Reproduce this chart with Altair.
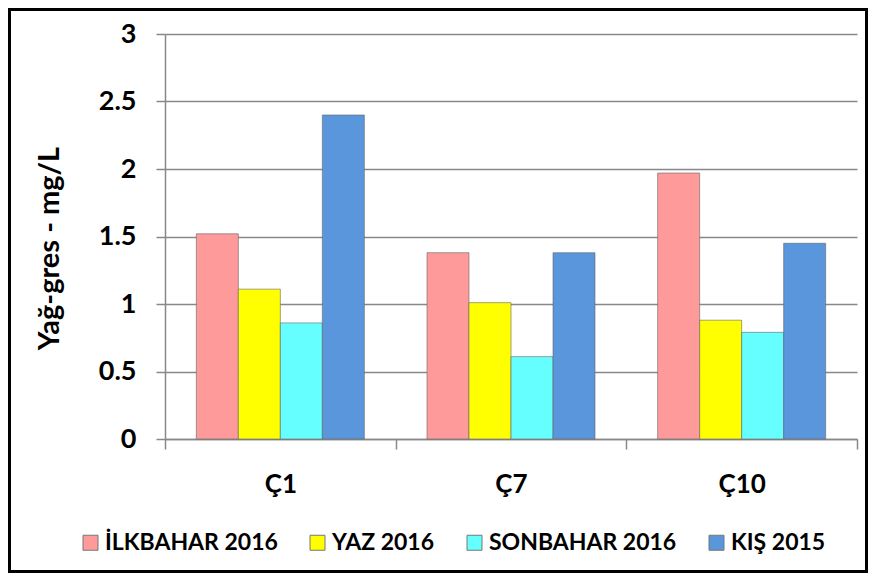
import altair as alt
import pandas as pd

stations = ["Ç1", "Ç7", "Ç10"]
seasons = ["İLKBAHAR 2016", "YAZ 2016", "SONBAHAR 2016", "KIŞ 2015"]
ilkbahar = [1.52, 1.38, 1.97]
yaz = [1.11, 1.01, 0.88]
sonbahar = [0.86, 0.61, 0.79]
kis = [2.40, 1.38, 1.45]
colors = ["#FF9A9A", "#FFFF00", "#66FFFF", "#5A96DC"]
y_ticks = [0, 0.5, 1, 1.5, 2, 2.5, 3]

rows = []
for s, vals in zip(seasons, [ilkbahar, yaz, sonbahar, kis]):
    for st, v in zip(stations, vals):
        rows.append({"station": st, "season": s, "value": v})
df = pd.DataFrame(rows)

W, H = 692, 405
FONT = "Lato"
WT = "bold"

bars = alt.Chart(df).mark_bar(stroke="#666666", strokeWidth=1, strokeOpacity=0.6).encode(
    x=alt.X("station:N", sort=stations, title=None,
            scale=alt.Scale(paddingInner=0, paddingOuter=0),
            axis=alt.Axis(labelAngle=0, labelFont=FONT, labelFontSize=26, labelFontWeight=WT,
                          labelColor="black", labelPadding=22, tickBand="extent", tickSize=10,
                          tickColor="#888888", domainColor="#888888", domainWidth=1.5, tickWidth=1.5)),
    xOffset=alt.XOffset("season:N", sort=seasons,
                        scale=alt.Scale(paddingInner=0, paddingOuter=0.746)),
    y=alt.Y("value:Q", title="Yağ-gres - mg/L",
            scale=alt.Scale(domain=[0, 3], nice=False),
            axis=alt.Axis(values=y_ticks, format="~g", labelFont=FONT, labelFontSize=27,
                          labelFontWeight=WT, labelColor="black", labelPadding=20,
                          tickSize=9, tickColor="#888888", tickWidth=1.5,
                          domainColor="#888888", domainWidth=1.5,
                          gridColor="#888888", gridWidth=1.5,
                          titleFont=FONT, titleFontSize=29, titleFontWeight=WT,
                          titleColor="black", titlePadding=34, titleY=214)),
    color=alt.Color("season:N", sort=seasons,
                    scale=alt.Scale(domain=seasons, range=colors),
                    legend=alt.Legend(title=None, orient="none", direction="horizontal",
                                      columns=4, legendX=-86, legendY=497,
                                      symbolType="square", symbolSize=225,
                                      symbolStrokeColor="#777777", symbolStrokeWidth=1,
                                      labelFont=FONT, labelFontSize=23, labelFontWeight=WT,
                                      labelColor="black", labelOffset=3, columnPadding=28,
                                      padding=0, labelLimit=300)),
)

frame = alt.Chart(pd.DataFrame({"a": [0]})).mark_rect(
    fill=None, stroke="black", strokeWidth=3, clip=False
).encode(
    x=alt.value(-155.5), x2=alt.value(W + 9.5),
    y=alt.value(-24.5), y2=alt.value(H + 132.5),
)

chart = alt.layer(bars, frame).properties(
    width=W, height=H,
    autosize=alt.AutoSizeParams(type="none"),
    padding={"left": 157, "top": 26, "right": 11, "bottom": 134},
).configure_view(stroke=None)

chart.save("out.html", embed_options={"renderer": "svg", "actions": False})
